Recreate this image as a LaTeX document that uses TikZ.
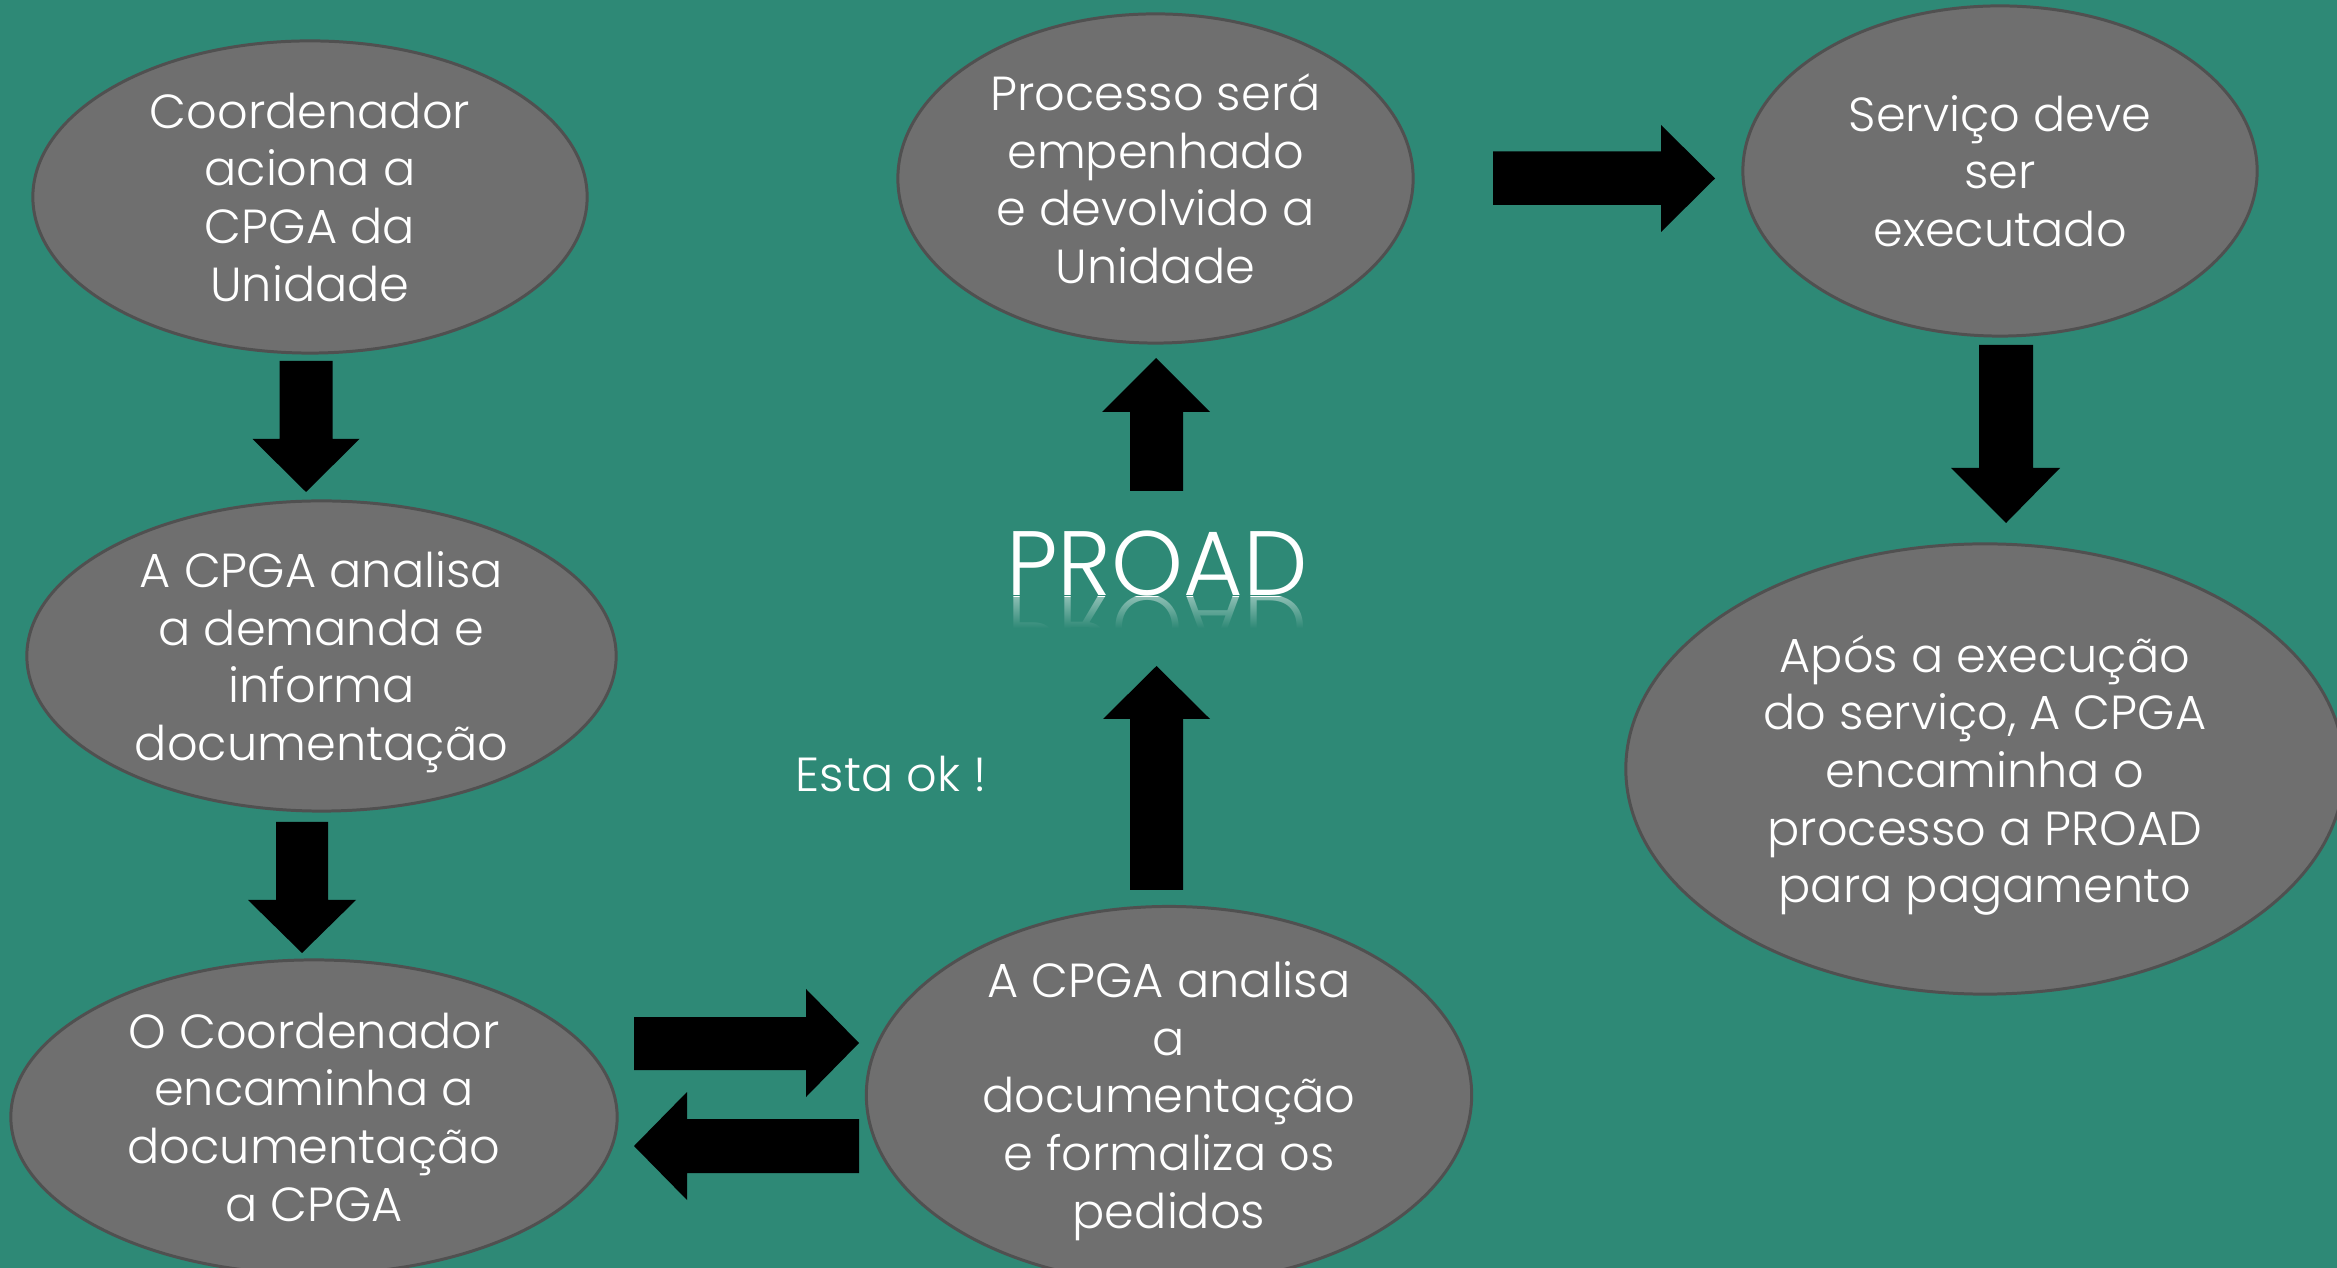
\documentclass[tikz,border=0pt]{standalone}
\usepackage{fontspec}
\setmainfont{Poppins Light}
\usetikzlibrary{shapes.geometric,fadings}
\definecolor{bg}{RGB}{46,137,118}
\definecolor{ellfill}{RGB}{111,111,111}
\definecolor{elldraw}{RGB}{80,80,80}
\tikzfading[name=reflfade, top color=transparent!45, bottom color=transparent!0]
\begin{document}
\begin{tikzpicture}[x=0.01cm,y=-0.01cm,
  ell/.style={ellipse, draw=elldraw, line width=0.85pt, fill=ellfill, text=white,
    align=center, inner sep=0pt, text depth=0pt, font=\fontsize{13.6}{16.4}\selectfont},
  barrow/.style={fill=black},
  lbl/.style={text=white, inner sep=0pt}]
\fill[bg] (0,0) rectangle (2337,1268);
\useasboundingbox (0,0) rectangle (2337,1268);
\clip (0,0) rectangle (2337,1268);

% ellipses
\node[ell, minimum width=5.54cm, minimum height=3.12cm] (e1) at (310,197)
  {Coordenador\\aciona a\\CPGA da\\Unidade};
\node[ell, minimum width=5.89cm, minimum height=3.10cm] (e2) at (321.5,656)
  {A CPGA analisa\\a demanda e\\informa\\documentação};
\node[ell, minimum width=6.06cm, minimum height=3.14cm] (e3) at (314,1117)
  {O Coordenador\\encaminha a\\documentação\\a CPGA};
\node[ell, minimum width=6.05cm, minimum height=3.52cm] (e4) at (1169,1095)
  {A CPGA analisa\\a\\documentação\\e formaliza os\\pedidos};
\node[ell, minimum width=5.15cm, minimum height=3.29cm] (e5) at (1155.5,178.5)
  {Processo será\\empenhado\\e devolvido a\\Unidade};
\node[ell, minimum width=5.14cm, minimum height=3.30cm] (e6) at (2000,171)
  {Serviço deve\\ser\\executado};
\node[ell, minimum width=7.18cm, minimum height=4.50cm] (e7) at (1985,769)
  {Após a execução\\do serviço, A CPGA\\encaminha o\\processo a PROAD\\para pagamento};

% PROAD with reflection
\node[lbl, font=\fontsize{26}{30}\selectfont, anchor=base] (proad) at (1157,596) {PROAD};
\begin{scope}
  \clip (990,597) rectangle (1330,628);
  \node[lbl, font=\fontsize{26}{30}\selectfont, anchor=base, yscale=-1] (proadrefl) at (1157,596) {PROAD};
\end{scope}
\fill[bg, path fading=reflfade] (990,597) rectangle (1330,628);

% label
\node[lbl, font=\fontsize{13.6}{16.4}\selectfont, anchor=base west] (ok) at (795,792) {Esta ok !};

% block arrows
% e1 -> e2
\fill[barrow] (279.5,361) -- (332.5,361) -- (332.5,439) -- (359.5,439) -- (306,492) -- (252.5,439) -- (279.5,439) -- cycle;
% e2 -> e3
\fill[barrow] (276,822) -- (328,822) -- (328,900) -- (356,900) -- (302,953) -- (248,900) -- (276,900) -- cycle;
% e3 -> e4
\fill[barrow] (634,1017) -- (806,1017) -- (806,989) -- (859,1043) -- (806,1097) -- (806,1070) -- (634,1070) -- cycle;
% e4 -> e3
\fill[barrow] (859,1119) -- (687,1119) -- (687,1092) -- (634,1146) -- (687,1200) -- (687,1173) -- (859,1173) -- cycle;
% e4 -> PROAD
\fill[barrow] (1130,890) -- (1130,719) -- (1103,719) -- (1156.5,666) -- (1210,719) -- (1183,719) -- (1183,890) -- cycle;
% PROAD -> e5
\fill[barrow] (1130,491) -- (1130,412) -- (1102,412) -- (1156,358) -- (1210,412) -- (1183,412) -- (1183,491) -- cycle;
% e5 -> e6
\fill[barrow] (1493,151.5) -- (1661,151.5) -- (1661,125) -- (1715,178.5) -- (1661,232) -- (1661,205) -- (1493,205) -- cycle;
% e6 -> e7
\fill[barrow] (1979,345) -- (2033,345) -- (2033,468) -- (2060,468) -- (2006,523) -- (1951,468) -- (1979,468) -- cycle;
\end{tikzpicture}
\end{document}
